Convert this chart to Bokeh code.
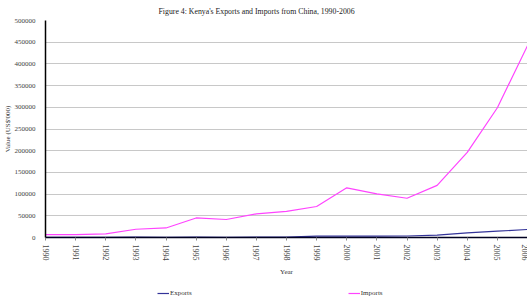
import math
from bokeh.plotting import figure
from bokeh.layouts import column
from bokeh.models import (Range1d, SingleIntervalTicker, FixedTicker, BasicTickFormatter,
                          Legend, LegendItem, ColumnDataSource)
from bokeh.embed import file_html
from bokeh.resources import INLINE

years = [1990, 1991, 1992, 1993, 1994, 1995, 1996, 1997, 1998,
         1999, 2000, 2001, 2002, 2003, 2004, 2005, 2006]
exports = [500, 400, 600, 800, 500, 900, 600, 700, 900,
           3000, 3500, 3000, 3500, 5300, 10800, 14500, 18500]
imports = [6500, 6500, 8500, 19000, 22000, 45000, 41500, 54500, 60000,
           71500, 114500, 100500, 90500, 120000, 196000, 299000, 442000]
series_names = ["Exports", "Imports"]
series_colors = ["#333399", "#FF44FF"]

FONT = "Liberation Serif"

p = figure(width=527, height=280, output_backend="svg", toolbar_location=None,
           x_range=Range1d(1990, 2006), y_range=Range1d(0, 500000),
           min_border_left=41, min_border_right=0, min_border_top=20, min_border_bottom=43)

p.title.text = "Figure 4: Kenya's Exports and Imports from China, 1990-2006"
p.title.text_font = FONT
p.title.text_font_size = "7.8px"
p.title.text_font_style = "normal"
p.title.text_color = "#222222"
p.title.align = "left"
p.title.offset = 113
p.title.standoff = 9

src = ColumnDataSource(dict(x=years, e=exports, i=imports))
p.line("x", "e", source=src, line_color=series_colors[0], line_width=1.2)
p.line("x", "i", source=src, line_color=series_colors[1], line_width=1.2)

p.outline_line_color = None
p.xgrid.grid_line_color = None
p.ygrid.grid_line_color = "#c8c8c8"
p.ygrid.grid_line_width = 1

p.yaxis.ticker = SingleIntervalTicker(interval=50000)
p.yaxis.formatter = BasicTickFormatter(use_scientific=False)
p.yaxis.axis_line_color = "black"
p.yaxis.axis_line_width = 1.5
p.yaxis.major_tick_line_color = None
p.yaxis.minor_tick_line_color = None
p.yaxis.major_label_text_font = FONT
p.yaxis.major_label_text_font_size = "7px"
p.yaxis.major_label_text_color = "#444444"
p.yaxis.major_label_standoff = 4
p.yaxis.axis_label = "Value (US$'000)"
p.yaxis.axis_label_text_font = FONT
p.yaxis.axis_label_text_font_style = "normal"
p.yaxis.axis_label_text_font_size = "7px"
p.yaxis.axis_label_text_color = "#333333"
p.yaxis.axis_label_standoff = 0

p.xaxis.ticker = FixedTicker(ticks=years)
p.xaxis.axis_line_color = "#000020"
p.xaxis.axis_line_width = 1.5
p.xaxis.major_tick_line_color = "#888888"
p.xaxis.major_tick_in = 0
p.xaxis.major_tick_out = 3
p.xaxis.minor_tick_line_color = None
p.xaxis.major_label_orientation = -math.pi / 2
p.xaxis.major_label_text_font = FONT
p.xaxis.major_label_text_font_size = "8px"
p.xaxis.major_label_text_color = "#444444"
p.xaxis.major_label_standoff = 4
p.xaxis.axis_label = "Year"
p.xaxis.axis_label_text_font = FONT
p.xaxis.axis_label_text_font_style = "normal"
p.xaxis.axis_label_text_font_size = "7px"
p.xaxis.axis_label_text_color = "#333333"
p.xaxis.axis_label_standoff = 4

# legend strip (separate small figure so the key sits below the axis title)
lg = figure(width=527, height=20, output_backend="svg", toolbar_location=None,
            x_range=Range1d(0, 1), y_range=Range1d(0, 1),
            min_border_left=0, min_border_right=0, min_border_top=0, min_border_bottom=0)
lg.axis.visible = False
lg.grid.visible = False
lg.outline_line_color = None
items = []
for name, col, ys in zip(series_names, series_colors, [exports, imports]):
    r = lg.line(years, ys, line_color=col, line_width=1.2, visible=False)
    items.append(LegendItem(label=name, renderers=[r]))
legend = Legend(items=items, orientation="horizontal", location=(112, 3),
                label_text_font=FONT, label_text_font_size="7px",
                label_text_color="#333333", glyph_width=12, glyph_height=6,
                label_standoff=1, spacing=156, padding=0, margin=0,
                border_line_color=None, background_fill_alpha=0,
                inactive_fill_alpha=0)
lg.add_layout(legend, "center")

layout = column(p, lg, spacing=0)
open("out.html", "w").write(file_html(layout, INLINE))
